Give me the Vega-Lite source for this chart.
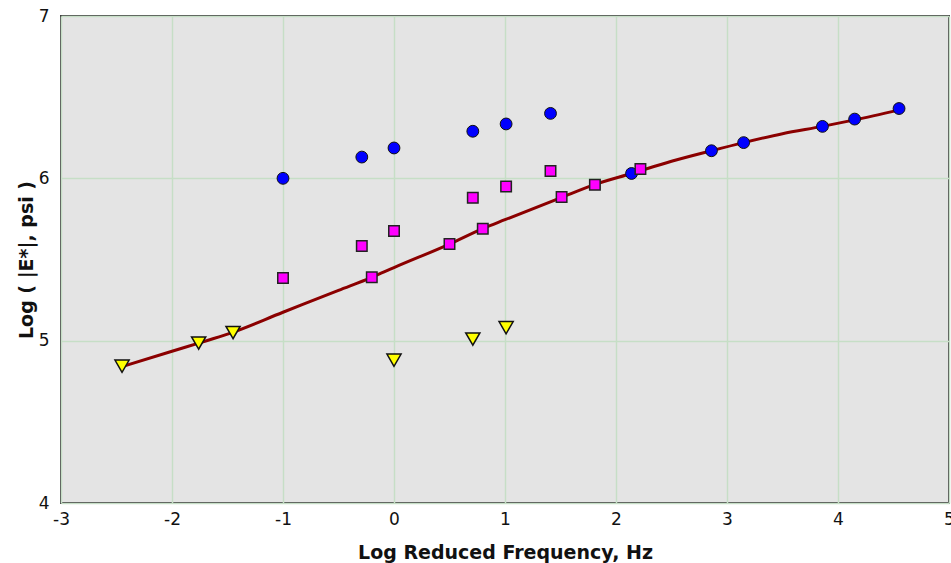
{
  "$schema": "https://vega.github.io/schema/vega-lite/v6.json",
  "width": 888,
  "height": 487,
  "autosize": {"type": "none"},
  "padding": {"left": 61, "top": 16, "right": 2, "bottom": 60},
  "background": "#ffffff",
  "config": {
    "view": {"fill": "#e4e4e4", "stroke": "#404040", "strokeWidth": 2},
    "axis": {
      "labelFont": "DejaVu Sans",
      "labelFontSize": 17,
      "labelColor": "#111111",
      "titleFont": "DejaVu Sans",
      "titleFontSize": 19,
      "titleFontWeight": "bold",
      "titleColor": "#111111",
      "grid": true,
      "gridColor": "#c6dec6",
      "gridWidth": 1.5,
      "ticks": false,
      "domain": false,
      "labelExpr": "datum.value < 0 ? '-' + abs(datum.value) : '' + datum.value"
    }
  },
  "datasets": {
    "curve": [
      {"f": -2.45, "e": 4.84},
      {"f": -2.0, "e": 4.935},
      {"f": -1.76, "e": 4.985},
      {"f": -1.5, "e": 5.04},
      {"f": -1.0, "e": 5.175},
      {"f": -0.5, "e": 5.31},
      {"f": -0.2, "e": 5.39},
      {"f": 0.0, "e": 5.45},
      {"f": 0.5, "e": 5.595},
      {"f": 0.8, "e": 5.69},
      {"f": 1.0, "e": 5.745},
      {"f": 1.5, "e": 5.88},
      {"f": 1.8, "e": 5.96},
      {"f": 2.14, "e": 6.03},
      {"f": 2.5, "e": 6.105},
      {"f": 2.86, "e": 6.17},
      {"f": 3.15, "e": 6.22},
      {"f": 3.5, "e": 6.275},
      {"f": 3.86, "e": 6.32},
      {"f": 4.15, "e": 6.36},
      {"f": 4.55, "e": 6.42}
    ],
    "pts": [
      {"s": "high", "f": -1.0, "e": 6.0},
      {"s": "high", "f": -0.29, "e": 6.131},
      {"s": "high", "f": 0.0, "e": 6.187},
      {"s": "high", "f": 0.71, "e": 6.29},
      {"s": "high", "f": 1.01, "e": 6.335},
      {"s": "high", "f": 1.41, "e": 6.4},
      {"s": "high", "f": 2.14, "e": 6.03},
      {"s": "high", "f": 2.86, "e": 6.17},
      {"s": "high", "f": 3.15, "e": 6.22},
      {"s": "high", "f": 3.86, "e": 6.32},
      {"s": "high", "f": 4.15, "e": 6.365},
      {"s": "high", "f": 4.55, "e": 6.43},
      {"s": "mid", "f": -1.0, "e": 5.386},
      {"s": "mid", "f": -0.29, "e": 5.583},
      {"s": "mid", "f": 0.0, "e": 5.675},
      {"s": "mid", "f": -0.2, "e": 5.39},
      {"s": "mid", "f": 0.5, "e": 5.595},
      {"s": "mid", "f": 0.71, "e": 5.88},
      {"s": "mid", "f": 0.8, "e": 5.69},
      {"s": "mid", "f": 1.01, "e": 5.95},
      {"s": "mid", "f": 1.41, "e": 6.045},
      {"s": "mid", "f": 1.51, "e": 5.885},
      {"s": "mid", "f": 1.81, "e": 5.96},
      {"s": "mid", "f": 2.22, "e": 6.057},
      {"s": "low", "f": -2.45, "e": 4.843},
      {"s": "low", "f": -1.76, "e": 4.985},
      {"s": "low", "f": -1.45, "e": 5.05},
      {"s": "low", "f": 0.0, "e": 4.88},
      {"s": "low", "f": 0.71, "e": 5.01},
      {"s": "low", "f": 1.01, "e": 5.08}
    ]
  },
  "encoding": {
    "x": {
      "field": "f", "type": "quantitative",
      "scale": {"domain": [-3, 5], "nice": false, "zero": false},
      "axis": {"values": [-3, -2, -1, 0, 1, 2, 3, 4, 5], "title": "Log Reduced Frequency, Hz", "labelPadding": 8, "labelFlush": false, "titleY": 55, "titleBaseline": "alphabetic"}
    },
    "y": {
      "field": "e", "type": "quantitative",
      "scale": {"domain": [4, 7], "nice": false, "zero": false},
      "axis": {"values": [4, 5, 6, 7], "title": "Log ( |E*|, psi )", "labelPadding": 12, "labelFlush": false, "titleX": -35, "titleBaseline": "middle"}
    }
  },
  "layer": [
    {
      "data": {"name": "curve"},
      "mark": {"type": "line", "color": "#8b0000", "strokeWidth": 3, "interpolate": "monotone"}
    },
    {
      "data": {"name": "pts"},
      "transform": [{"filter": "datum.s === 'high'"}],
      "mark": {"type": "point", "shape": "circle", "filled": true, "fill": "#0000ff", "stroke": "#111111", "strokeWidth": 1, "opacity": 1, "size": 140}
    },
    {
      "data": {"name": "pts"},
      "transform": [{"filter": "datum.s === 'mid'"}],
      "mark": {"type": "point", "shape": "square", "filled": true, "fill": "#ff00ff", "stroke": "#222222", "strokeWidth": 1.5, "opacity": 1, "size": 110}
    },
    {
      "data": {"name": "pts"},
      "transform": [{"filter": "datum.s === 'low'"}],
      "mark": {"type": "point", "shape": "triangle-down", "filled": true, "fill": "#ffff00", "stroke": "#111111", "strokeWidth": 1.5, "opacity": 1, "size": 200}
    }
  ]
}
